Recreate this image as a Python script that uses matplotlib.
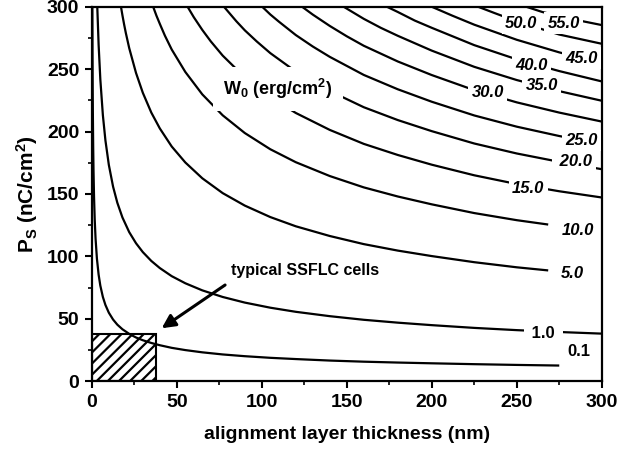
import matplotlib
matplotlib.use("Agg")
import matplotlib.pyplot as plt
from matplotlib.patches import Rectangle

plt.rcParams['font.family'] = ['Liberation Sans', 'DejaVu Sans']
plt.rcParams['font.weight'] = 'bold'
plt.rcParams['mathtext.fontset'] = 'custom'
plt.rcParams['mathtext.rm'] = 'Liberation Sans:bold'
plt.rcParams['mathtext.it'] = 'Liberation Sans:bold:italic'
plt.rcParams['mathtext.bf'] = 'Liberation Sans:bold'
plt.rcParams['hatch.linewidth'] = 1.6

# contour curves of W0 (erg/cm^2): thickness d (nm) vs Ps (nC/cm^2)
d_w0p1 = [0.31, 0.4, 0.5, 0.6, 0.8, 1.0, 1.3, 1.7, 2.2, 3, 4, 5, 6.5, 8, 10, 12.5, 15, 18, 22,
          26, 30, 35, 40, 47, 55, 65, 77, 90, 105, 120, 140, 160, 180, 200, 225, 250, 275]
ps_w0p1 = [300, 264.4, 236.8, 216.4, 187.7, 168.1, 147.8, 129.5, 114.2, 98.1, 85.3, 76.5, 67.4,
           61.0, 54.8, 49.3, 45.2, 41.5, 37.8, 34.9, 32.7, 30.5, 28.7, 26.6, 24.8, 23.0, 21.3,
           19.9, 18.6, 17.6, 16.4, 15.5, 14.8, 14.2, 13.5, 12.9, 12.4]

d_w1 = [3.21, 4, 5, 6.5, 8, 10, 12.5, 15, 18, 22, 26, 30, 35, 40, 47, 55, 65, 77, 90, 105,
        120, 140, 160, 180, 200, 225, 250, 275, 300]
ps_w1 = [300, 269.7, 242.0, 213.2, 193.0, 173.4, 155.9, 143.0, 131.2, 119.4, 110.5, 103.4,
         96.3, 90.6, 84.1, 78.4, 72.7, 67.4, 62.9, 58.8, 55.5, 52.0, 49.1, 46.8, 44.8, 42.6,
         40.8, 39.3, 38.0]

d_w5 = [17.17, 18, 19, 20, 22, 26, 30, 35, 40, 47, 55, 65, 77, 90, 105, 120, 140, 160, 180,
        200, 225, 250, 268.5]
ps_w5 = [300, 293.4, 286.0, 279.2, 267.0, 247.1, 231.2, 215.3, 202.6, 188.1, 175.3, 162.6,
         150.7, 140.7, 131.5, 124.1, 116.3, 109.8, 104.6, 100.2, 95.3, 91.2, 88.7]

d_w10 = [36.13, 38, 40, 43, 47, 55, 65, 77, 90, 105, 120, 140, 160, 180, 200, 225, 250, 268.5]
ps_w10 = [300, 293.1, 286.5, 277.0, 265.9, 247.9, 229.9, 213.1, 198.9, 185.9, 175.5, 164.4,
          155.3, 148.0, 141.7, 134.7, 129.0, 125.5]

d_w15 = [56.42, 60, 65, 70, 77, 90, 105, 120, 140, 160, 180, 200, 225, 250, 275, 300]
ps_w15 = [300, 291.8, 281.6, 272.4, 261.0, 243.6, 227.7, 215.0, 201.4, 190.2, 181.3, 173.5,
          165.0, 158.0, 152.2, 147.2]

d_w20 = [77.87, 85, 90, 97, 105, 120, 140, 160, 180, 200, 225, 250, 275, 300]
ps_w20 = [300, 288.6, 281.3, 272.4, 263.0, 248.2, 232.6, 219.6, 209.3, 200.4, 190.5, 182.5,
          175.8, 169.9]

d_w25 = [100.4, 105, 110, 120, 130, 140, 160, 180, 200, 225, 250, 275, 300]
ps_w25 = [300, 294.0, 288.3, 277.5, 268.3, 260.0, 245.5, 234.0, 224.0, 213.0, 204.0, 196.5, 190.0]

d_w30 = [123.9, 130, 140, 150, 160, 180, 200, 225, 250, 275, 300]
ps_w30 = [300, 293.9, 284.8, 276.5, 268.9, 256.3, 245.4, 233.3, 223.5, 215.3, 208.1]

d_w35 = [148.4, 160, 170, 180, 200, 225, 250, 275, 300]
ps_w35 = [300, 290.5, 283.3, 276.9, 265.0, 252.0, 241.4, 232.5, 224.8]

d_w40 = [173.9, 180, 190, 200, 225, 250, 275, 300]
ps_w40 = [300, 296.0, 289.1, 283.3, 269.4, 258.0, 248.6, 240.3]

d_w45 = [200.3, 212, 225, 250, 275, 300]
ps_w45 = [300, 293.1, 285.8, 273.7, 263.6, 254.9]

d_w50 = [227.6, 237, 250, 275, 300]
ps_w50 = [300, 295.1, 288.5, 277.9, 270.5]

d_w55 = [256.0, 265, 280, 300]
ps_w55 = [300, 296.0, 291.0, 285.5]

curves = [
    (d_w0p1, ps_w0p1), (d_w1, ps_w1), (d_w5, ps_w5), (d_w10, ps_w10),
    (d_w15, ps_w15), (d_w20, ps_w20), (d_w25, ps_w25), (d_w30, ps_w30),
    (d_w35, ps_w35), (d_w40, ps_w40), (d_w45, ps_w45), (d_w50, ps_w50),
    (d_w55, ps_w55),
]

# contour label texts and their positions (d, Ps)
level_labels = ['0.1', ' 1.0 ', '5.0', '10.0', '15.0', ' 20.0', '25.0', '30.0',
                '35.0', '40.0', '45.0', '50.0', '55.0']
label_d = [286.5, 265.8, 282.6, 285.8, 256.7, 283.6, 288.2, 232.9,
           264.7, 258.8, 288.0, 252.6, 277.6]
label_ps = [23.7, 38.1, 86.2, 121.1, 154.8, 176.0, 192.9, 231.4,
            237.0, 253.0, 259.0, 286.7, 287.1]
label_italic = [False, False, True, True, True, True, True, True,
                True, True, True, True, True]

# typical SSFLC cell region
box_d = 38
box_ps = 38

x_ticks = [0, 50, 100, 150, 200, 250, 300]
y_ticks = [0, 50, 100, 150, 200, 250, 300]

fig = plt.figure(figsize=(6.39, 4.51), dpi=100)
ax = fig.add_axes([0.1437, 0.1552, 0.798, 0.8293])

for d, ps in curves:
    ax.plot(d, ps, color='black', lw=1.6, solid_capstyle='butt', zorder=2)

ax.add_patch(Rectangle((0, 0), box_d, box_ps, facecolor='white', edgecolor='black',
                       hatch='///', lw=1.5, zorder=1.5))

for txt, xd, yp, it in zip(level_labels, label_d, label_ps, label_italic):
    ax.text(xd, yp, txt, fontsize=12, fontweight='bold',
            style='italic' if it else 'normal', ha='center', va='center',
            zorder=4, bbox=dict(boxstyle='square,pad=0.2', fc='white', ec='none'))

ax.text(109.6, 234.2, r'W$_0$ (erg/cm$^2$)', fontsize=13, fontweight='bold',
        ha='center', va='center', zorder=4,
        bbox=dict(boxstyle='square,pad=0.55', fc='white', ec='none'))

ax.text(125.6, 89, 'typical SSFLC cells', fontsize=11.5, fontweight='bold',
        ha='center', va='center', zorder=4)
ax.annotate('', xy=(41.1, 42.3), xytext=(78.4, 77),
            arrowprops=dict(arrowstyle='-|>', lw=2.2, mutation_scale=20, color='black',
                            shrinkA=0, shrinkB=0), zorder=4)

ax.set_xlim(0, 300)
ax.set_ylim(0, 300)
ax.set_xticks(x_ticks)
ax.set_yticks(y_ticks)
ax.set_xticks(range(25, 300, 50), minor=True)
ax.set_yticks(range(25, 300, 50), minor=True)
ax.tick_params(which='major', direction='out', length=5, width=1.5, labelsize=14, pad=4)
ax.tick_params(which='minor', direction='out', length=3, width=1.2)
for lab in ax.get_xticklabels() + ax.get_yticklabels():
    lab.set_fontweight('bold')
for s in ax.spines.values():
    s.set_linewidth(1.6)

ax.set_xlabel('alignment layer thickness (nm)', fontsize=14, fontweight='bold', labelpad=11)
ax.set_ylabel(r'P$_{\rm S}$ (nC/cm$^{\rm 2}$)', fontsize=15, fontweight='bold', labelpad=5)

fig.savefig('out.png', dpi=100)
